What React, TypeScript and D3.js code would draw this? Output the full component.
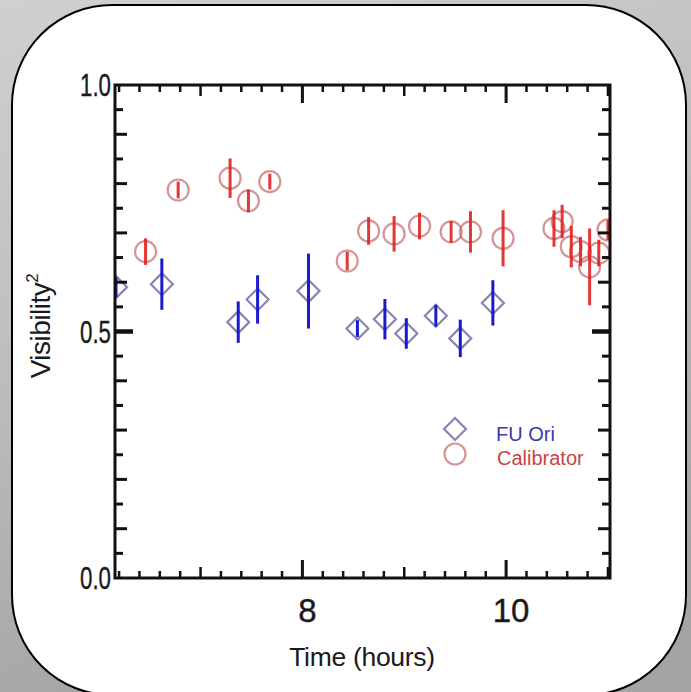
import React from "react";
import * as d3 from "d3";

// FU Ori (diamonds)
const fuTime = [6.17, 6.62, 7.37, 7.56, 8.06, 8.54, 8.81, 9.02, 9.31, 9.55, 9.87];
const fuVis = [0.59, 0.596, 0.519, 0.565, 0.582, 0.506, 0.525, 0.496, 0.532, 0.486, 0.558];
const fuErr = [0.02, 0.052, 0.042, 0.049, 0.076, 0.017, 0.041, 0.031, 0.022, 0.038, 0.046];

// Calibrator (circles)
const calTime = [6.46, 6.78, 7.29, 7.47, 7.68, 8.44, 8.65, 8.9, 9.15, 9.46, 9.65, 9.97, 10.47, 10.55, 10.64, 10.73, 10.82, 10.91, 11.0];
const calVis = [0.662, 0.787, 0.811, 0.765, 0.804, 0.643, 0.704, 0.698, 0.714, 0.702, 0.702, 0.689, 0.709, 0.723, 0.672, 0.662, 0.631, 0.659, 0.706];
const calErr = [0.027, 0.017, 0.04, 0.023, 0.016, 0.019, 0.028, 0.036, 0.027, 0.022, 0.042, 0.057, 0.037, 0.034, 0.042, 0.03, 0.078, 0.027, 0.02];

const xTickLabels = [8, 10];
const yTickLabels = [0.0, 0.5, 1.0];
const legendLabels = ["FU Ori", "Calibrator"];

const W = 691;
const H = 692;
const L = 115, R = 610, T = 85, B = 578;

export default function App() {
  const x = d3.scaleLinear().domain([6.16, 11.02]).range([L, R]);
  const y = d3.scaleLinear().domain([0, 1]).range([B, T]);

  const xMinor = d3.range(6.2, 11.01, 0.2).map((v) => Math.round(v * 10) / 10);
  const yMinor = d3.range(0.05, 0.96, 0.05).map((v) => Math.round(v * 100) / 100);

  const xLen = (v: number) => {
    if (Math.abs(v - 8) < 1e-6 || Math.abs(v - 10) < 1e-6) return 18;
    if (Math.abs(v - Math.round(v)) < 1e-6) return 11;
    return 7;
  };
  const yLen = (v: number) => {
    if (Math.abs(v - 0.5) < 1e-6) return 18;
    if (Math.abs(v * 10 - Math.round(v * 10)) < 1e-6) return 12;
    return 8;
  };
  const yW = (v: number) => (Math.abs(v - 0.5) < 1e-6 ? 4.5 : 3);

  const font = "'Liberation Sans', Arial, Helvetica, sans-serif";
  const dia = (cx: number, cy: number, s: number) =>
    `M${cx},${cy - s}L${cx + s},${cy}L${cx},${cy + s}L${cx - s},${cy}Z`;

  return (
    <svg width={W} height={H} style={{ position: "absolute", left: 0, top: 0 }}>
      <defs>
        <linearGradient id="bg" x1="0" y1="0" x2="0.3" y2="1">
          <stop offset="0" stopColor="#d0d0d0" />
          <stop offset="0.5" stopColor="#bdbdbd" />
          <stop offset="1" stopColor="#a4a4a4" />
        </linearGradient>
        <clipPath id="plotClip">
          <rect x={L} y={T} width={R - L} height={B - T} />
        </clipPath>
      </defs>
      <rect x={0} y={0} width={W} height={H} fill="url(#bg)" />
      <rect x={12} y={5} width={674} height={690} rx={100} ry={100} fill="#ffffff" stroke="#000" strokeWidth={2} />

      {/* data */}
      <g clipPath="url(#plotClip)">
        {calTime.map((t, i) => (
          <circle key={"c" + i} cx={x(t)} cy={y(calVis[i])} r={10.5} fill="none" stroke="#c87070" strokeOpacity={0.75} strokeWidth={2.2} />
        ))}
        {fuTime.map((t, i) => (
          <path key={"d" + i} d={dia(x(t), y(fuVis[i]), 11)} fill="none" stroke="#8686b4" strokeWidth={2.2} />
        ))}
        {calTime.map((t, i) => (
          <line key={"ce" + i} x1={x(t)} x2={x(t)} y1={y(calVis[i] - calErr[i])} y2={y(calVis[i] + calErr[i])} stroke="#e02020" strokeOpacity={0.9} strokeWidth={3} />
        ))}
        {fuTime.map((t, i) => (
          <line key={"fe" + i} x1={x(t)} x2={x(t)} y1={y(fuVis[i] - fuErr[i])} y2={y(fuVis[i] + fuErr[i])} stroke="#1a1acc" strokeWidth={3} />
        ))}
      </g>

      {/* frame */}
      <rect x={L} y={T} width={R - L} height={B - T} fill="none" stroke="#111" strokeWidth={3} />
      {xMinor.map((v) => (
        <g key={"xt" + v}>
          <line x1={x(v)} x2={x(v)} y1={B} y2={B - xLen(v)} stroke="#111" strokeWidth={xLen(v) > 12 ? 3 : 2.5} />
          <line x1={x(v)} x2={x(v)} y1={T} y2={T + xLen(v)} stroke="#111" strokeWidth={xLen(v) > 12 ? 3 : 2.5} />
        </g>
      ))}
      {yMinor.map((v) => (
        <g key={"yt" + v}>
          <line x1={L} x2={L + yLen(v)} y1={y(v)} y2={y(v)} stroke="#111" strokeWidth={yW(v)} />
          <line x1={R} x2={R - yLen(v)} y1={y(v)} y2={y(v)} stroke="#111" strokeWidth={yW(v)} />
        </g>
      ))}

      {/* tick labels */}
      {yTickLabels.map((v) => (
        <text key={"yl" + v} x={111} y={y(v) + 11} textAnchor="end" fontFamily={font} fontSize={31} fill="#1a1a1a" stroke="#1a1a1a" strokeWidth={0.4} textLength={31} lengthAdjust="spacingAndGlyphs">
          {v.toFixed(1)}
        </text>
      ))}
      {xTickLabels.map((v) => (
        <text key={"xl" + v} x={x(v) + 5} y={622} textAnchor="middle" fontFamily={font} fontSize={33} fill="#1a1a1a" stroke="#1a1a1a" strokeWidth={0.4}>
          {v}
        </text>
      ))}

      {/* axis titles */}
      <text x={362} y={666} textAnchor="middle" fontFamily={font} fontSize={26.5} fill="#1a1a1a" letterSpacing={-0.3}>
        Time (hours)
      </text>
      <text transform="translate(50,326) rotate(-90)" textAnchor="middle" fontFamily={font} fontSize={28} fill="#1a1a1a" letterSpacing={-0.5}>
        Visibility<tspan dy={-12} fontSize={17}>2</tspan>
      </text>

      {/* legend */}
      <path d={dia(455, 429, 11)} fill="none" stroke="#8686b4" strokeWidth={2.2} />
      <circle cx={455} cy={454} r={10.5} fill="none" stroke="#c87070" strokeOpacity={0.75} strokeWidth={2.2} />
      <text x={496} y={441} fontFamily={font} fontSize={20} fill="#3a3aa8">
        {legendLabels[0]}
      </text>
      <text x={497} y={465} fontFamily={font} fontSize={20} fill="#c84444">
        {legendLabels[1]}
      </text>
    </svg>
  );
}
